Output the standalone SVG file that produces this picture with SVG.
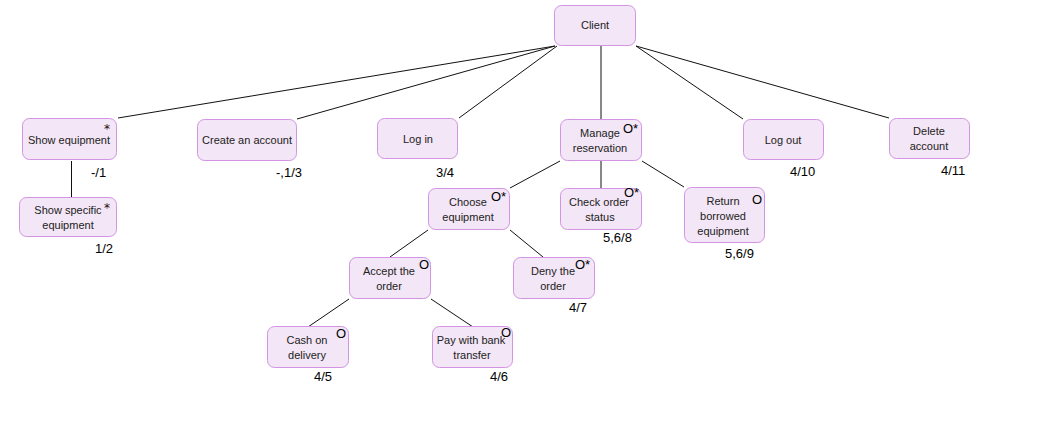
<svg xmlns="http://www.w3.org/2000/svg" width="1037" height="426" viewBox="0 0 1037 426">
<style>
.box{fill:#f3e6f6;stroke:#d294e3;stroke-width:1}
.t{font-family:"Liberation Sans",Arial,sans-serif;font-size:11px;fill:#222;text-anchor:middle}
.m{font-family:"Liberation Sans",Arial,sans-serif;font-size:13px;fill:#000}
.s{font-family:"DejaVu Sans",sans-serif;font-size:12px;fill:#2a0a0a}
.n{font-family:"Liberation Sans",Arial,sans-serif;font-size:13px;fill:#000}
.c line{stroke:#111;stroke-width:1}
</style>
<rect width="1037" height="426" fill="#fff"/>
<g class="c" id="connectors">
<line x1="555" y1="46" x2="118" y2="118"/>
<line x1="555" y1="46" x2="297" y2="119"/>
<line x1="557" y1="46" x2="459" y2="118"/>
<line x1="601" y1="45" x2="601" y2="119"/>
<line x1="636" y1="46" x2="743" y2="119"/>
<line x1="636" y1="46" x2="889" y2="118"/>
<line x1="71.5" y1="161" x2="71.5" y2="197"/>
<line x1="560" y1="161" x2="510" y2="188"/>
<line x1="601" y1="161" x2="601" y2="188"/>
<line x1="642" y1="161" x2="684" y2="187"/>
<line x1="428" y1="230" x2="390" y2="257"/>
<line x1="510" y1="230" x2="543" y2="257"/>
<line x1="349" y1="299" x2="308" y2="327"/>
<line x1="431" y1="299" x2="473" y2="327"/>
</g>
<g id="client"><rect class="box" x="554.5" y="5.5" width="81" height="40" rx="7"/><text class="t" x="595" y="29">Client</text></g>
<g id="show-equipment"><rect class="box" x="22.5" y="118.5" width="94" height="41" rx="7"/><text class="t" x="69" y="144">Show equipment</text><text class="s" x="104" y="133">*</text><text class="n" x="91" y="177">-/1</text></g>
<g id="show-specific"><rect class="box" x="19.5" y="197.5" width="97" height="39" rx="7"/><text class="t" x="68" y="214">Show specific</text><text class="t" x="68" y="229">equipment</text><text class="s" x="104" y="212">*</text><text class="n" x="95" y="253">1/2</text></g>
<g id="create-account"><rect class="box" x="197.5" y="119.5" width="99" height="41" rx="7"/><text class="t" x="247" y="144">Create an account</text><text class="n" x="276" y="177">-,1/3</text></g>
<g id="log-in"><rect class="box" x="377.5" y="118.5" width="80" height="40" rx="7"/><text class="t" x="418" y="143">Log in</text><text class="n" x="436" y="177">3/4</text></g>
<g id="manage-reservation"><rect class="box" x="560.5" y="119.5" width="81" height="41" rx="7"/><text class="t" x="600" y="137">Manage</text><text class="t" x="600" y="152">reservation</text><text class="m" x="623" y="133">O*</text></g>
<g id="log-out"><rect class="box" x="743.5" y="119.5" width="80" height="40" rx="7"/><text class="t" x="783" y="144">Log out</text><text class="n" x="790" y="176">4/10</text></g>
<g id="delete-account"><rect class="box" x="889.5" y="118.5" width="80" height="40" rx="7"/><text class="t" x="929" y="135">Delete</text><text class="t" x="929" y="150">account</text><text class="n" x="941" y="175">4/11</text></g>
<g id="choose-equipment"><rect class="box" x="428.5" y="188.5" width="81" height="41" rx="7"/><text class="t" x="468" y="206">Choose</text><text class="t" x="468" y="221">equipment</text><text class="m" x="491" y="201">O*</text></g>
<g id="check-order"><rect class="box" x="560.5" y="188.5" width="81" height="41" rx="7"/><text class="t" x="599" y="206">Check order</text><text class="t" x="600" y="221">status</text><text class="m" x="624" y="197">O*</text><text class="n" x="603" y="242">5,6/8</text></g>
<g id="return-equipment"><rect class="box" x="684.5" y="187.5" width="80" height="55" rx="7"/><text class="t" x="723" y="205">Return</text><text class="t" x="723" y="220">borrowed</text><text class="t" x="723" y="235">equipment</text><text class="m" x="752" y="204">O</text><text class="n" x="725" y="258">5,6/9</text></g>
<g id="accept-order"><rect class="box" x="349.5" y="257.5" width="81" height="41" rx="7"/><text class="t" x="389" y="275">Accept the</text><text class="t" x="389" y="290">order</text><text class="m" x="419" y="269">O</text></g>
<g id="deny-order"><rect class="box" x="513.5" y="257.5" width="81" height="41" rx="7"/><text class="t" x="553" y="275">Deny the</text><text class="t" x="553" y="290">order</text><text class="m" x="575" y="269">O*</text><text class="n" x="569" y="312">4/7</text></g>
<g id="cash-on-delivery"><rect class="box" x="267.5" y="326.5" width="81" height="41" rx="7"/><text class="t" x="307" y="344">Cash on</text><text class="t" x="307" y="359">delivery</text><text class="m" x="336" y="338">O</text><text class="n" x="314" y="381">4/5</text></g>
<g id="pay-bank-transfer"><rect class="box" x="432.5" y="326.5" width="80" height="41" rx="7"/><text class="t" x="471" y="344">Pay with bank</text><text class="t" x="472" y="359">transfer</text><text class="m" x="501" y="337">O</text><text class="n" x="490" y="381">4/6</text></g>
</svg>
